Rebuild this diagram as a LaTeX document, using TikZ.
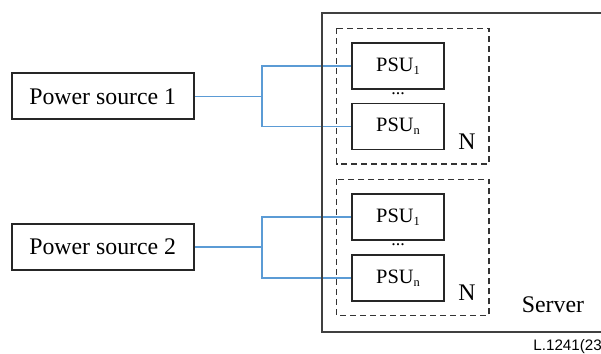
\documentclass[tikz,border=0pt]{standalone}
\usetikzlibrary{backgrounds}
\usepackage{fontspec}
\setmainfont{Liberation Serif}
\setsansfont{Liberation Sans}
\newcommand{\psusub}[1]{PSU\raisebox{-1.6pt}{\fontsize{6.2}{7}\selectfont #1}}
\begin{document}
\begin{tikzpicture}[x=0.5pt,y=-0.5pt,
  srcbox/.style={draw=black!85,line width=0.9pt,minimum width=91pt,minimum height=23pt,inner sep=0pt,font=\fontsize{11.9}{13}\selectfont},
  psubox/.style={draw=black!85,line width=0.9pt,minimum width=46pt,minimum height=23pt,inner sep=0pt,font=\fontsize{10.2}{12}\selectfont},
  groupbox/.style={draw=black!80,line width=0.7pt,dash pattern=on 3pt off 2pt},
  serverbox/.style={draw=black!75,line width=1pt},
  lbl/.style={font=\fontsize{11.9}{13}\selectfont,inner sep=0pt},
  dotlbl/.style={font=\fontsize{9}{10}\selectfont,inner sep=0pt},
  feed/.style={draw={rgb,255:red,91;green,155;blue,213},line width=0.75pt}]
\useasboundingbox (0,0) rectangle (601,354);
\clip (0,0) rectangle (601,354);
% PSUs
\node[psubox] (a1) at (398,65.9) {\psusub{1}};
\node[psubox] (an) at (398,126.5) {\psusub{n}};
\node[psubox] (b1) at (398,217) {\psusub{1}};
\node[psubox] (bn) at (398,278) {\psusub{n}};
\node[dotlbl] (da) at (398,94) {...};
\node[dotlbl] (db) at (398,245) {...};
\node[lbl] (na) at (467,142) {N};
\node[lbl] (nb) at (467,293) {N};
% sources
\node[srcbox] (ps1) at (102.7,96.3) {Power source 1};
\node[srcbox] (ps2) at (102.7,247) {Power source 2};
\coordinate (br1) at (262,96.3);
\coordinate (br2) at (262,247);
\node[lbl] (server) at (553,305) {Server};
\node[font=\sffamily\fontsize{7.6}{9}\selectfont,anchor=west,inner sep=0pt] (ref) at (533,347) {L.1241(23)};
\begin{pgfonlayer}{background}
\draw[feed] (ps1.east) -- (br1);
\draw[feed] (br1) |- (a1.west);
\draw[feed] (br1) |- (an.west);
\draw[feed] (ps2.east) -- (br2);
\draw[feed] (br2) |- (b1.west);
\draw[feed] (br2) |- (bn.west);
\end{pgfonlayer}
% server and groups drawn over the feeds
\draw[serverbox] (322.3,12.7) rectangle (640,332.3);
\draw[groupbox] (336.7,28.3) rectangle (489,164);
\draw[groupbox] (336.7,179.3) rectangle (489,315.7);
\end{tikzpicture}
\end{document}
